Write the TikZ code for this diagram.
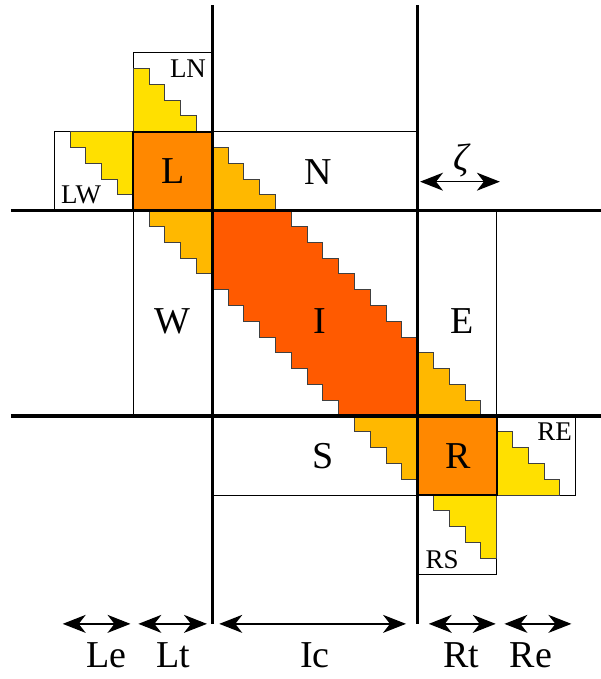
\documentclass[tikz,border=0pt]{standalone}
\usepackage{fontspec}
\setmainfont{Liberation Serif}
\usetikzlibrary{arrows.meta}

\definecolor{blockorange}{RGB}{255,136,0}
\definecolor{innerred}{RGB}{255,90,0}
\definecolor{edgeamber}{RGB}{255,184,0}
\definecolor{outeryellow}{RGB}{255,224,0}

\begin{document}
\begin{tikzpicture}[x=15.8pt, y=-15.8pt,
  box/.style={draw=black, line width=1.2pt},
  stairs/.style={draw=black!75, line width=1pt},
  gridline/.style={line width=3.4pt},
  span/.style={line width=1.3pt,
    {Stealth[length=23pt,width=18pt,inset=7pt]}-{Stealth[length=23pt,width=18pt,inset=7pt]}},
  big/.style={font=\fontsize{38}{40}\selectfont},
  small/.style={font=\fontsize{27}{30}\selectfont}]
  \useasboundingbox (-13.44,-13.34) rectangle (24.60,29.64);

  % outer boxes
  \draw[box] (-5,-10) rectangle (0,-5);
  \draw[box] (-10,-5) rectangle (-5,0);
  \draw[box] (0,-5) rectangle (13,0);
  \draw[box] (-5,0) rectangle (0,13);
  \draw[box] (13,0) rectangle (18,13);
  \draw[box] (0,13) rectangle (13,18);
  \draw[box] (18,13) rectangle (23,18);
  \draw[box] (13,18) rectangle (18,23);

  % staircases
  \filldraw[stairs, fill=outeryellow] (-5,-5) -- (-5,-9)
    \foreach \k in {1,...,4} { -- ++(1,0) -- ++(0,1) } -- cycle;
  \filldraw[stairs, fill=outeryellow] (-5,-5) -- (-5,-1)
    \foreach \k in {1,...,4} { -- ++(-1,0) -- ++(0,-1) } -- cycle;
  \filldraw[stairs, fill=edgeamber] (0,0) -- (0,-4)
    \foreach \k in {1,...,4} { -- ++(1,0) -- ++(0,1) } -- cycle;
  \filldraw[stairs, fill=edgeamber] (0,0) -- (-4,0)
    \foreach \k in {1,...,4} { -- ++(0,1) -- ++(1,0) } -- cycle;
  \filldraw[stairs, fill=edgeamber] (13,13) -- (13,9)
    \foreach \k in {1,...,4} { -- ++(1,0) -- ++(0,1) } -- cycle;
  \filldraw[stairs, fill=edgeamber] (13,13) -- (9,13)
    \foreach \k in {1,...,4} { -- ++(0,1) -- ++(1,0) } -- cycle;
  \filldraw[stairs, fill=outeryellow] (18,18) -- (18,14)
    \foreach \k in {1,...,4} { -- ++(1,0) -- ++(0,1) } -- cycle;
  \filldraw[stairs, fill=outeryellow] (18,18) -- (14,18)
    \foreach \k in {1,...,4} { -- ++(0,1) -- ++(1,0) } -- cycle;
  \filldraw[stairs, fill=innerred] (0,0) -- (5,0)
    \foreach \k in {1,...,8} { -- ++(0,1) -- ++(1,0) } -- (13,13) -- (8,13)
    \foreach \k in {1,...,8} { -- ++(0,-1) -- ++(-1,0) } -- cycle;

  % corner blocks
  \filldraw[box, line width=1.8pt, fill=blockorange] (-5,-5) rectangle (0,0);
  \filldraw[box, line width=1.8pt, fill=blockorange] (13,13) rectangle (18,18);

  % grid lines
  \draw[gridline] (0,-13) -- (0,26.15);
  \draw[gridline] (13,-13) -- (13,26.15);
  \draw[gridline] (-12.75,0) -- (24.7,0);
  \draw[gridline] (-12.75,13) -- (24.7,13);

  \node[big] (labL) at (-2.5,-2.5) {L};
  \node[big] (labN) at (6.7,-2.45) {N};
  \node[big] (labW) at (-2.5,7.0) {W};
  \node[big] (labI) at (6.8,7.0) {I};
  \node[big] (labE) at (15.8,7.0) {E};
  \node[big] (labS) at (7.0,15.5) {S};
  \node[big] (labR) at (15.55,15.5) {R};
  \node[small] (labLN) at (-1.54,-9.0) {LN};
  \node[small] (labLW) at (-8.3,-1.0) {LW};
  \node[small] (labRE) at (21.67,14.0) {RE};
  \node[small] (labRS) at (14.54,22.1) {RS};

  % zeta width
  \coordinate (zeta-l) at (13.15,-1.84);
  \coordinate (zeta-r) at (18.2,-1.84);
  \draw[span] (zeta-l) -- (zeta-r);
  \node[big] (labzeta) at (15.75,-3.2) {\itshape ζ};

  % widths along the bottom
  \foreach \name/\a/\b/\lx in {Le/-9.47/-5.18/-6.72, Lt/-4.68/-0.34/-2.45,
      Ic/0.44/12.26/6.5, Rt/13.7/17.94/15.75, Re/18.49/22.73/20.17} {
    \coordinate (\name-l) at (\a,26.15);
    \coordinate (\name-r) at (\b,26.15);
    \draw[span] (\name-l) -- (\name-r);
    \node[big, anchor=base] (lab\name) at (\lx,28.9) {\name};
  }
\end{tikzpicture}
\end{document}
